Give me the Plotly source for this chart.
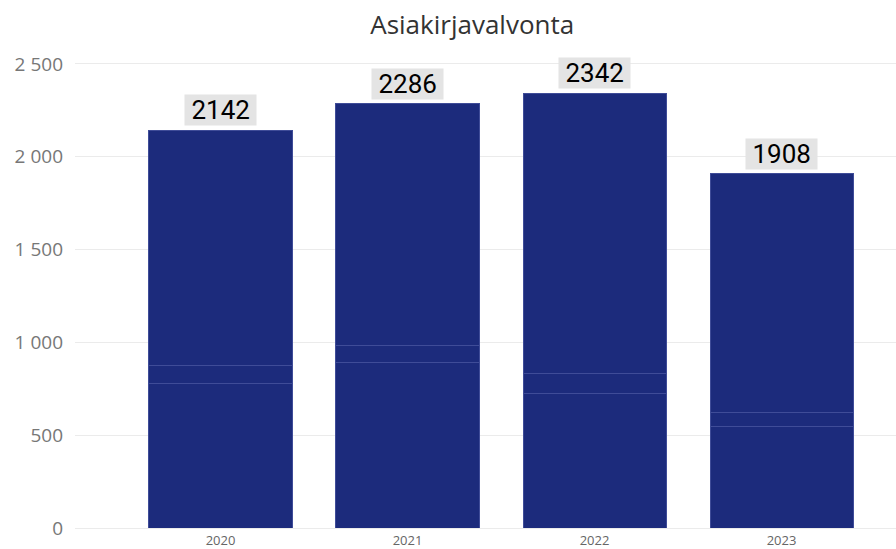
import plotly.graph_objects as go

years = ["2020", "2021", "2022", "2023"]
seg_bottom = [780, 891, 726, 546]
seg_middle = [93, 90, 107, 75]
seg_top = [1269, 1305, 1509, 1287]
totals = [2142, 2286, 2342, 1908]

bar_color = "#1c2b7c"
edge_color = "#3f4c98"

fig = go.Figure()
for name, vals in [("A", seg_bottom), ("B", seg_middle), ("C", seg_top)]:
    fig.add_trace(go.Bar(
        x=years, y=vals, name=name,
        marker=dict(color=bar_color, line=dict(color=edge_color, width=1)),
        hoverinfo="x+y",
    ))

for i, tot in enumerate(totals):
    fig.add_annotation(
        x=i, y=tot, text=f" {tot} ", showarrow=False,
        yanchor="bottom", yshift=4,
        font=dict(family="Roboto", size=26, color="#000000"),
        bgcolor="#e4e4e4", borderpad=0,
    )

fig.update_layout(
    width=896, height=549,
    barmode="stack", bargap=0.235,
    showlegend=False,
    plot_bgcolor="white", paper_bgcolor="white",
    margin=dict(l=75, r=0, t=50, b=21, autoexpand=False),
    separators=". ",
    title=dict(text="Asiakirjavalvonta", x=0.527, xanchor="center", y=0.955, yanchor="middle",
               font=dict(family="Open Sans", size=26, color="#333333")),
    xaxis=dict(
        type="category", range=[-0.778, 3.612], automargin=False,
        showgrid=False, showline=False, ticks="",
        ticklabelstandoff=3,
        tickfont=dict(family="Open Sans", size=13, color="#666666"),
    ),
    yaxis=dict(
        range=[0, 2575], tickvals=[0, 500, 1000, 1500, 2000, 2500], automargin=False,
        tickformat=",d", showgrid=True, gridcolor="#ebebeb", gridwidth=1,
        zeroline=True, zerolinecolor="#ebebeb", zerolinewidth=1,
        ticks="", ticklabelstandoff=11,
        tickfont=dict(family="Open Sans", size=19, color="#777777"),
    ),
)

fig.write_html("out.html", config={"displayModeBar": False},
               post_script="document.body.style.margin='0';document.body.style.overflow='hidden';")
